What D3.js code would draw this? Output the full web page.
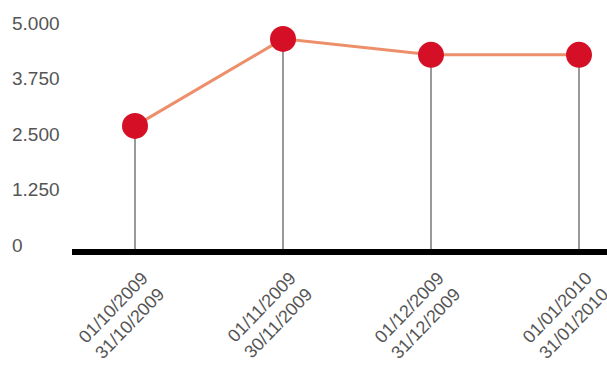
<!DOCTYPE html>
<html>
<head>
<meta charset="utf-8">
<script src="https://cdn.jsdelivr.net/npm/d3@7"></script>
<style>
  body { margin: 0; background: #fff; }
  text { font-family: "Liberation Sans", Arial, sans-serif; }
</style>
</head>
<body>
<div class="chart"></div>
<script>
// periods (two-line labels) and values
var periodStart = ["01/10/2009", "01/11/2009", "01/12/2009", "01/01/2010"];
var periodEnd   = ["31/10/2009", "30/11/2009", "31/12/2009", "31/01/2010"];
var values      = [2840, 4800, 4440, 4440];
var yTicks      = [0, 1250, 2500, 3750, 5000];

var svgWidth = 607, svgHeight = 369;

var data = periodStart.map((d, i) => ({key: d, end: periodEnd[i], value: values[i]}));

var locale = d3.formatLocale({decimal: ",", thousands: ".", grouping: [3], currency: ["", "€"]});
var fmt = locale.format(",d");

var xScale = d3.scalePoint()
      .domain(periodStart)
      .range([135, 579]);

var yScale = d3.scaleLinear()
      .domain([0, 5000])
      .range([252, 30]);

var svg = d3.select(".chart").append("svg")
    .attr("width", svgWidth)
    .attr("height", svgHeight);

// y labels (no axis line)
var yAxis = svg.append("g")
    .attr("transform", "translate(12,0)")
    .call(d3.axisRight(yScale).tickValues(yTicks).tickFormat(fmt).tickSize(0));
yAxis.select(".domain").remove();
yAxis.selectAll("text")
    .attr("x", 0)
    .attr("dy", "-0.05em")
    .attr("fill", "#555")
    .style("font-size", "19px");

// stems
svg.selectAll(".stem")
    .data(data)
    .enter().append("line")
    .attr("class", "stem")
    .attr("x1", d => xScale(d.key))
    .attr("x2", d => xScale(d.key))
    .attr("y1", yScale(0))
    .attr("y2", d => yScale(d.value))
    .attr("stroke", "#999")
    .attr("stroke-width", 2);

// baseline
svg.append("line")
    .attr("x1", 72)
    .attr("x2", svgWidth)
    .attr("y1", yScale(0))
    .attr("y2", yScale(0))
    .attr("stroke", "#000")
    .attr("stroke-width", 6);

// line
var line = d3.line()
    .x(d => xScale(d.key))
    .y(d => yScale(d.value));

svg.append("path")
    .datum(data)
    .attr("d", line)
    .attr("fill", "none")
    .attr("stroke", "#ec8f6a")
    .attr("stroke-width", 3);

// dots
svg.selectAll(".dot")
    .data(data)
    .enter().append("circle")
    .attr("class", "dot")
    .attr("cx", d => xScale(d.key))
    .attr("cy", d => yScale(d.value))
    .attr("r", 13)
    .attr("fill", "#d50f25");

// x labels, rotated, two lines
var xl = svg.selectAll(".xlab")
    .data(data)
    .enter().append("g")
    .attr("class", "xlab")
    .attr("transform", d => "translate(" + xScale(d.key) + "," + yScale(0) + ") rotate(-46)");

xl.append("text")
    .attr("text-anchor", "end")
    .attr("x", -10)
    .attr("y", 29)
    .attr("fill", "#555")
    .style("font-size", "18px")
    .text(d => d.key);

xl.append("text")
    .attr("text-anchor", "end")
    .attr("x", -10)
    .attr("y", 52)
    .attr("fill", "#555")
    .style("font-size", "18px")
    .text(d => d.end);
</script>
</body>
</html>
